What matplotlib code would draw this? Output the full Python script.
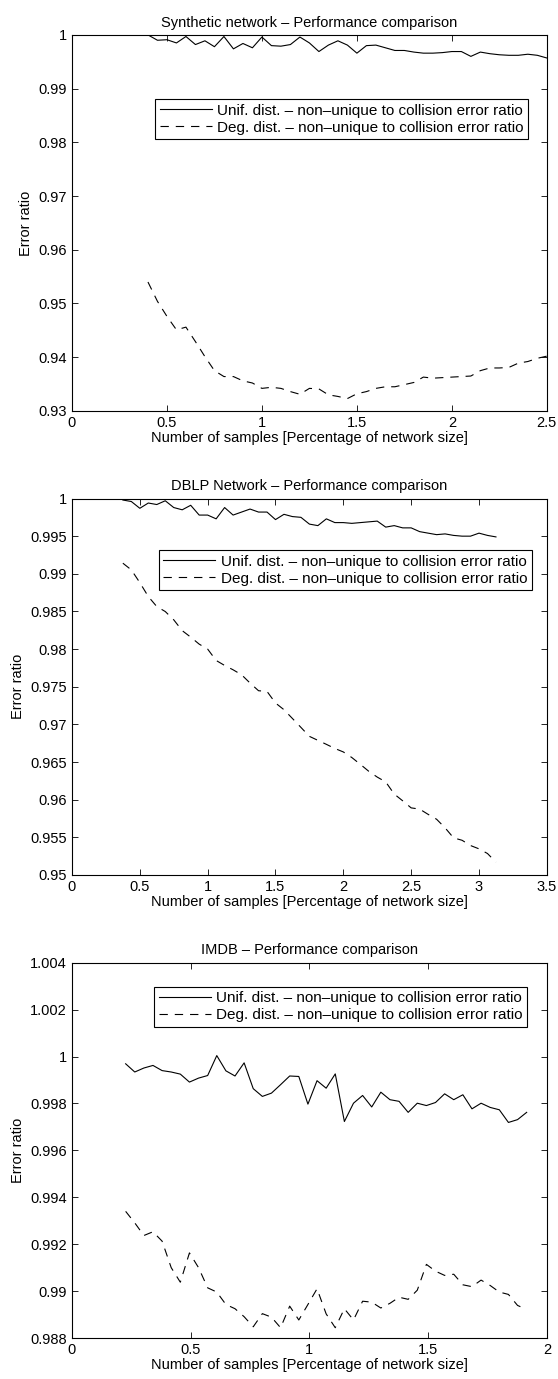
import numpy as np
import matplotlib
matplotlib.use('Agg')
import matplotlib.pyplot as plt
from matplotlib.ticker import FuncFormatter

plt.rcParams['font.family'] = ['Liberation Sans', 'DejaVu Sans']
plt.rcParams['lines.scale_dashes'] = False

# ---------------- datos ----------------
# Synthetic network
x_syn = np.linspace(0.4, 2.5, 43)
unif_syn = [1.0000, 0.9990, 0.9991, 0.9985, 0.9997, 0.9982, 0.9989, 0.9978, 0.9997, 0.9974,
            0.9984, 0.9976, 0.9996, 0.9980, 0.9979, 0.9982, 0.9996, 0.9985, 0.9969, 0.9981,
            0.9989, 0.9981, 0.9966, 0.9980, 0.9981, 0.9976, 0.9971, 0.9971, 0.9968, 0.9966,
            0.9966, 0.9967, 0.9969, 0.9969, 0.9960, 0.9968, 0.9965, 0.9963, 0.9962, 0.9962,
            0.9964, 0.9962, 0.9957]
deg_syn = [0.9540, 0.9504, 0.9476, 0.9451, 0.9456, 0.9429, 0.9401, 0.9375, 0.9364, 0.9364,
           0.9356, 0.9352, 0.9342, 0.9344, 0.9342, 0.9336, 0.9331, 0.9342, 0.9341, 0.9330,
           0.9327, 0.9323, 0.9332, 0.9336, 0.9342, 0.9345, 0.9345, 0.9349, 0.9353, 0.9363,
           0.9361, 0.9362, 0.9363, 0.9364, 0.9365, 0.9375, 0.9380, 0.9380, 0.9381, 0.9389,
           0.9392, 0.9398, 0.9402]

# DBLP
x_dblp = np.linspace(0.375, 3.125, 45)
unif_dblp = [0.9998, 0.9996, 0.9987, 0.9994, 0.9992, 0.9997, 0.9988, 0.9985, 0.9991, 0.9978,
             0.9978, 0.9973, 0.9988, 0.9978, 0.9982, 0.9986, 0.9982, 0.9982, 0.9972, 0.9979,
             0.9976, 0.9975, 0.9966, 0.9964, 0.9973, 0.9968, 0.9968, 0.9967, 0.9968, 0.9969,
             0.9970, 0.9962, 0.9964, 0.9961, 0.9961, 0.9956, 0.9954, 0.9952, 0.9953, 0.9951,
             0.9950, 0.9950, 0.9954, 0.9951, 0.9949]
deg_dblp = [0.99141, 0.99052, 0.98883, 0.98698, 0.98565, 0.98499, 0.98389, 0.98245, 0.98159, 0.98066,
            0.98000, 0.97849, 0.97783, 0.97725, 0.97659, 0.97549, 0.97447, 0.97438, 0.97284, 0.97195,
            0.97078, 0.96960, 0.96841, 0.96788, 0.96735, 0.96680, 0.96634, 0.96560, 0.96470, 0.96377,
            0.96300, 0.96236, 0.96075, 0.95985, 0.95891, 0.95875, 0.95805, 0.95740, 0.95626, 0.95493,
            0.95461, 0.95391, 0.95347, 0.95285, 0.95170]

# IMDB
x_imdb = np.linspace(0.226, 1.915, 45)
unif_imdb = [0.99969, 0.99934, 0.99951, 0.99962, 0.99940, 0.99934, 0.99925, 0.99891, 0.99908, 0.99919,
             1.00004, 0.99939, 0.99917, 0.99973, 0.99863, 0.99830, 0.99844, 0.99880, 0.99917, 0.99915,
             0.99797, 0.99897, 0.99865, 0.99926, 0.99723, 0.99801, 0.99834, 0.99785, 0.99848, 0.99816,
             0.99809, 0.99762, 0.99801, 0.99791, 0.99804, 0.99841, 0.99816, 0.99837, 0.99777, 0.99801,
             0.99783, 0.99773, 0.99719, 0.99731, 0.99762]
deg_imdb = [0.99340, 0.99291, 0.99237, 0.99253, 0.99213, 0.99100, 0.99038, 0.99163, 0.99100, 0.99014,
            0.98996, 0.98943, 0.98925, 0.98891, 0.98848, 0.98904, 0.98889, 0.98844, 0.98936, 0.98877,
            0.98943, 0.99010, 0.98903, 0.98844, 0.98925, 0.98877, 0.98957, 0.98953, 0.98928, 0.98948,
            0.98974, 0.98965, 0.99004, 0.99114, 0.99085, 0.99067, 0.99072, 0.99027, 0.99019, 0.99047,
            0.99024, 0.98996, 0.98986, 0.98939, 0.98922]

etiqueta_unif = 'Unif. dist. \u2013 non\u2013unique to collision error ratio'
etiqueta_deg = 'Deg. dist. \u2013 non\u2013unique to collision error ratio'

paneles = [
    dict(titulo='Synthetic network \u2013 Performance comparison', x=x_syn, u=unif_syn, d=deg_syn,
         xlim=(0, 2.5), xticks=np.arange(0, 2.51, 0.5), ylim=(0.93, 1.0),
         yticks=np.arange(0.93, 1.0001, 0.01), pos=[0.129, 0.702, 0.851, 0.2727],
         leg=(0.961, 0.829)),
    dict(titulo='DBLP Network \u2013 Performance comparison', x=x_dblp, u=unif_dblp, d=deg_dblp,
         xlim=(0, 3.5), xticks=np.arange(0, 3.51, 0.5), ylim=(0.95, 1.0),
         yticks=np.arange(0.95, 1.0001, 0.005), pos=[0.129, 0.3655, 0.851, 0.2730],
         leg=(0.968, 0.863)),
    dict(titulo='IMDB \u2013 Performance comparison', x=x_imdb, u=unif_imdb, d=deg_imdb,
         xlim=(0, 2), xticks=np.arange(0, 2.01, 0.5), ylim=(0.988, 1.004),
         yticks=np.arange(0.988, 1.00401, 0.002), pos=[0.129, 0.0297, 0.851, 0.2722],
         leg=(0.959, 0.936)),
]

fs = 10.5
fmt = FuncFormatter(lambda v, p: '%g' % round(v, 6))

fig = plt.figure(figsize=(5.58, 13.79), dpi=100)
for p in paneles:
    ax = fig.add_axes(p['pos'])
    ax.plot(p['x'], p['u'], color='black', linewidth=0.8, label=etiqueta_unif)
    ax.plot(p['x'], p['d'], color='black', linewidth=0.8, linestyle=(0, (6, 5)), label=etiqueta_deg)
    ax.set_xlim(*p['xlim'])
    ax.set_ylim(*p['ylim'])
    ax.set_xticks(p['xticks'])
    ax.set_yticks(p['yticks'])
    ax.xaxis.set_major_formatter(fmt)
    ax.yaxis.set_major_formatter(fmt)
    ax.tick_params(direction='in', top=True, right=True, labelsize=fs, length=4, width=0.6)
    for s in ax.spines.values():
        s.set_linewidth(0.8)
    ax.set_title(p['titulo'], fontsize=fs, pad=6)
    ax.set_xlabel('Number of samples [Percentage of network size]', fontsize=fs, labelpad=1)
    ax.set_ylabel('Error ratio', fontsize=fs, labelpad=4)
    leg = ax.legend(loc='upper right', bbox_to_anchor=p['leg'], borderaxespad=0, fontsize=fs + 0.5,
                    fancybox=False, framealpha=1, edgecolor='black', handlelength=3.4,
                    handletextpad=0.35, borderpad=0.3, labelspacing=0.2)
    leg.get_frame().set_linewidth(0.8)

fig.savefig('out.png', dpi=100)
